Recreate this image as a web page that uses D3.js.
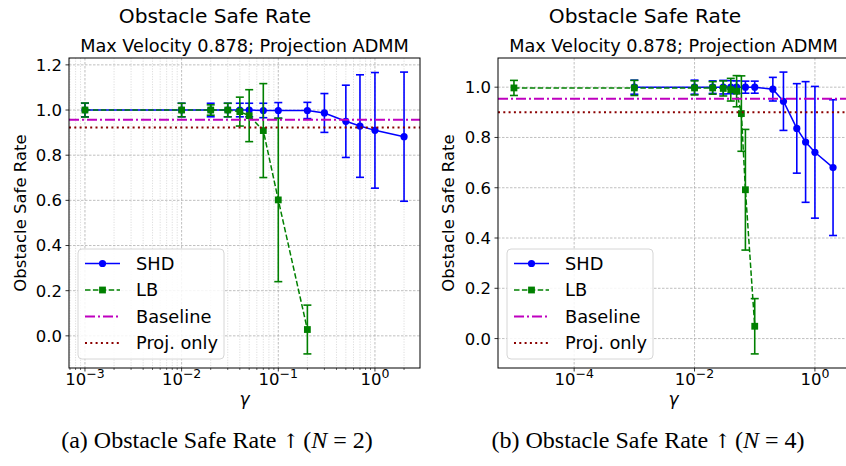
<!DOCTYPE html>
<html><head><meta charset="utf-8">
<script src="https://cdn.jsdelivr.net/npm/d3@7"></script>
<style>
html,body{margin:0;padding:0;background:#fff;}
svg{display:block;font-family:"DejaVu Sans",sans-serif;}
</style></head>
<body>
<svg id="chart" width="846" height="466"></svg>
<script>
// ---------------- DATA ----------------
const seriesNames = ["SHD", "LB", "Baseline", "Proj. only"];

// Panel (a) N = 2
const aShdGamma = [0.001, 0.01, 0.02, 0.03, 0.04, 0.05, 0.07, 0.1, 0.2, 0.3, 0.5, 0.7, 1.0, 2.0];
const aShdMean  = [1.0, 1.0, 1.0, 1.0, 1.0, 1.0, 0.998, 0.998, 0.998, 0.987, 0.950, 0.929, 0.910, 0.882];
const aShdErr   = [0.03, 0.03, 0.03, 0.03, 0.03, 0.03, 0.032, 0.035, 0.036, 0.086, 0.16, 0.227, 0.256, 0.286];
const aLbGamma  = [0.001, 0.01, 0.02, 0.03, 0.04, 0.05, 0.07, 0.1, 0.2];
const aLbMean   = [1.0, 1.0, 1.0, 1.0, 0.993, 0.975, 0.909, 0.602, 0.028];
const aLbErr    = [0.031, 0.03, 0.023, 0.03, 0.064, 0.115, 0.208, 0.362, 0.108];
const aBaseline = 0.957;
const aProjOnly = 0.923;
const aXTicks   = [1e-3, 1e-2, 1e-1, 1e0];
const aYTicks   = [0.0, 0.2, 0.4, 0.6, 0.8, 1.0, 1.2];

// Panel (b) N = 4
const bShdGamma = [0.001, 0.01, 0.02, 0.03, 0.04, 0.05, 0.07, 0.1, 0.2, 0.3, 0.5, 0.7, 1.0, 2.0];
const bShdMean  = [1.0, 1.0, 1.0, 1.0, 1.0, 1.0, 1.0, 1.0, 0.992, 0.944, 0.836, 0.782, 0.741, 0.680];
const bShdErr   = [0.028, 0.028, 0.025, 0.027, 0.026, 0.025, 0.024, 0.024, 0.047, 0.116, 0.178, 0.24, 0.262, 0.27];
const bLbGamma  = [1e-5, 1e-3, 0.01, 0.02, 0.03, 0.04, 0.05, 0.06, 0.07, 0.1];
const bLbMean   = [0.997, 0.997, 0.997, 0.997, 0.995, 0.99, 0.984, 0.895, 0.592, 0.049];
const bLbErr    = [0.03, 0.03, 0.028, 0.025, 0.03, 0.045, 0.062, 0.15, 0.24, 0.11];
const bBaseline = 0.954;
const bProjOnly = 0.900;
const bXTicks   = [1e-4, 1e-2, 1e0];
const bYTicks   = [0.0, 0.2, 0.4, 0.6, 0.8, 1.0];

const supTitle = "Obstacle Safe Rate";
const axTitle  = "Max Velocity 0.878; Projection ADMM";
const yLabel   = "Obstacle Safe Rate";
const xLabel   = "γ";

// ---------------- DRAW ----------------
const svg = d3.select("#chart");
const COL = {SHD: "#0000ff", LB: "#008000", Baseline: "#bf00bf", Proj: "#8b0000"};

function zipSeries(g, m, e) { return g.map((x, i) => ({x, y: m[i], e: e[i]})); }

function drawPanel(cfg) {
  const {left, top, width, height} = cfg;
  const shd = zipSeries(cfg.shdGamma, cfg.shdMean, cfg.shdErr);
  const lb  = zipSeries(cfg.lbGamma, cfg.lbMean, cfg.lbErr);
  const all = shd.concat(lb);

  // matplotlib-like 5% margins
  const lx = d3.extent(all, d => Math.log10(d.x));
  const px = (lx[1] - lx[0]) * 0.05;
  const yMin = d3.min(all, d => d.y - d.e), yMax = d3.max(all, d => d.y + d.e);
  const py = (yMax - yMin) * 0.05;

  const x = d3.scaleLog().domain([Math.pow(10, lx[0] - px), Math.pow(10, lx[1] + px)]).range([left, left + width]);
  const y = d3.scaleLinear().domain([yMin - py, yMax + py]).range([top + height, top]);

  const g = svg.append("g");
  const clipId = "clip" + cfg.id;
  svg.append("clipPath").attr("id", clipId).append("rect")
    .attr("x", left).attr("y", top).attr("width", width).attr("height", height);
  const plot = g.append("g").attr("clip-path", `url(#${clipId})`);

  // minor grid
  if (cfg.minor) {
    const minors = [];
    for (let k = -6; k <= 1; k++) for (let m = 2; m <= 9; m++) {
      const v = m * Math.pow(10, k);
      if (v > x.domain()[0] && v < x.domain()[1]) minors.push(v);
    }
    plot.selectAll(".mg").data(minors).join("line")
      .attr("x1", d => x(d)).attr("x2", d => x(d)).attr("y1", top).attr("y2", top + height)
      .attr("stroke", "#c8c8c8").attr("stroke-width", 0.6).attr("stroke-dasharray", "1.2,1.4");
    g.selectAll(".mt").data(minors).join("line")
      .attr("x1", d => x(d)).attr("x2", d => x(d)).attr("y1", top + height).attr("y2", top + height + 2)
      .attr("stroke", "#000").attr("stroke-width", 0.6);
  }
  // major grid
  plot.selectAll(".gx").data(cfg.xTicks).join("line")
    .attr("x1", d => x(d)).attr("x2", d => x(d)).attr("y1", top).attr("y2", top + height)
    .attr("stroke", "#b0b0b0").attr("stroke-width", 0.8).attr("stroke-dasharray", "2.5,1.5");
  plot.selectAll(".gy").data(cfg.yTicks).join("line")
    .attr("y1", d => y(d)).attr("y2", d => y(d)).attr("x1", left).attr("x2", left + width)
    .attr("stroke", "#b0b0b0").attr("stroke-width", 0.8).attr("stroke-dasharray", "2.5,1.5");

  function drawSeries(data, color, dash, marker) {
    const eb = plot.append("g");
    eb.selectAll("line.v").data(data).join("line")
      .attr("x1", d => x(d.x)).attr("x2", d => x(d.x)).attr("y1", d => y(d.y - d.e)).attr("y2", d => y(d.y + d.e))
      .attr("stroke", color).attr("stroke-width", 1.6);
    [-1, 1].forEach(s => {
      eb.selectAll("line.c" + s).data(data).join("line")
        .attr("x1", d => x(d.x) - 4).attr("x2", d => x(d.x) + 4)
        .attr("y1", d => y(d.y + s * d.e)).attr("y2", d => y(d.y + s * d.e))
        .attr("stroke", color).attr("stroke-width", 1.6);
    });
    plot.append("path").datum(data)
      .attr("d", d3.line().x(d => x(d.x)).y(d => y(d.y)))
      .attr("fill", "none").attr("stroke", color).attr("stroke-width", 1.5)
      .attr("stroke-dasharray", dash);
    if (marker === "circle") {
      plot.selectAll(null).data(data).join("circle")
        .attr("cx", d => x(d.x)).attr("cy", d => y(d.y)).attr("r", 3.6).attr("fill", color);
    } else {
      plot.selectAll(null).data(data).join("rect")
        .attr("x", d => x(d.x) - 3.4).attr("y", d => y(d.y) - 3.4).attr("width", 6.8).attr("height", 6.8).attr("fill", color);
    }
  }
  drawSeries(shd, COL.SHD, null, "circle");
  drawSeries(lb, COL.LB, "5.5,2.4", "square");

  plot.append("line").attr("x1", left).attr("x2", left + width).attr("y1", y(cfg.baseline)).attr("y2", y(cfg.baseline))
    .attr("stroke", COL.Baseline).attr("stroke-width", 2).attr("stroke-dasharray", "10,3,2,3");
  plot.append("line").attr("x1", left).attr("x2", left + width).attr("y1", y(cfg.proj)).attr("y2", y(cfg.proj))
    .attr("stroke", COL.Proj).attr("stroke-width", 2).attr("stroke-dasharray", "2,3.3");

  // spines
  g.append("rect").attr("x", left).attr("y", top).attr("width", width).attr("height", height)
    .attr("fill", "none").attr("stroke", "#000").attr("stroke-width", 1);

  // y axis ticks
  g.selectAll(".yt").data(cfg.yTicks).join("line")
    .attr("x1", left - 3.5).attr("x2", left).attr("y1", d => y(d)).attr("y2", d => y(d))
    .attr("stroke", "#000").attr("stroke-width", 0.8);
  g.selectAll(".yl").data(cfg.yTicks).join("text")
    .attr("x", left - 7).attr("y", d => y(d)).attr("dy", "0.36em")
    .attr("text-anchor", "end").attr("font-size", 16.5).text(d3.format(".1f"));

  // x axis ticks
  g.selectAll(".xt").data(cfg.xTicks).join("line")
    .attr("x1", d => x(d)).attr("x2", d => x(d)).attr("y1", top + height).attr("y2", top + height + 3.5)
    .attr("stroke", "#000").attr("stroke-width", 0.8);
  const xl = g.selectAll(".xl").data(cfg.xTicks).join("text")
    .attr("x", d => x(d)).attr("y", top + height + 16.5)
    .attr("text-anchor", "middle").attr("font-size", 16.5);
  xl.append("tspan").text("10");
  xl.append("tspan").attr("dy", -7).attr("font-size", 12.5)
    .text(d => { const e = Math.round(Math.log10(d)); return e < 0 ? "\u2212" + (-e) : String(e); });

  // labels
  g.append("text").attr("x", left + width / 2).attr("y", top + height + 37)
    .attr("text-anchor", "middle").attr("font-size", 17).attr("font-style", "italic").text(xLabel);
  g.append("text").attr("transform", `translate(${cfg.yLabelX},${top + height / 2}) rotate(-90)`)
    .attr("text-anchor", "middle").attr("dy", "0.35em").attr("font-size", 16.5).text(yLabel);
  g.append("text").attr("x", left + width / 2).attr("y", top - 6)
    .attr("text-anchor", "middle").attr("font-size", 17.7).text(axTitle);
  g.append("text").attr("x", cfg.supX).attr("y", 23)
    .attr("text-anchor", "middle").attr("font-size", 20.2).text(supTitle);

  // legend
  const lg = g.append("g").attr("transform", `translate(${left + 9},${top + height - 119})`);
  lg.append("rect").attr("width", 146).attr("height", 110).attr("rx", 4)
    .attr("fill", "#fff").attr("fill-opacity", 0.85).attr("stroke", "#d6d6d6");
  const rows = [
    {name: seriesNames[0], color: COL.SHD, dash: null, marker: "circle"},
    {name: seriesNames[1], color: COL.LB, dash: "5.5,2.4", marker: "square"},
    {name: seriesNames[2], color: COL.Baseline, dash: "10,3,2,3", marker: null, w: 2},
    {name: seriesNames[3], color: COL.Proj, dash: "2,3.3", marker: null, w: 2}
  ];
  rows.forEach((r, i) => {
    const cy = 14.5 + i * 26.5;
    lg.append("line").attr("x1", 7).attr("x2", 42).attr("y1", cy).attr("y2", cy)
      .attr("stroke", r.color).attr("stroke-width", r.w || 1.5).attr("stroke-dasharray", r.dash);
    if (r.marker === "circle") lg.append("circle").attr("cx", 24.5).attr("cy", cy).attr("r", 3.6).attr("fill", r.color);
    if (r.marker === "square") lg.append("rect").attr("x", 21.1).attr("y", cy - 3.4).attr("width", 6.8).attr("height", 6.8).attr("fill", r.color);
    lg.append("text").attr("x", 58).attr("y", cy).attr("dy", "0.36em").attr("font-size", 17.8).text(r.name);
  });

  // caption
  const cap = svg.append("text").attr("x", cfg.capX).attr("y", 448).attr("text-anchor", "middle")
    .attr("font-family", "'Liberation Serif','Times New Roman',serif").attr("font-size", 24);
  cap.append("tspan").text(`(${cfg.letter}) Obstacle Safe Rate `);
  cap.append("tspan").attr("font-family", "'DejaVu Serif',serif").attr("font-size", 20).text("\u2191");
  cap.append("tspan").attr("dx", 4).text("(");
  cap.append("tspan").attr("font-style", "italic").text("N");
  cap.append("tspan").attr("dx", 6).text("=");
  cap.append("tspan").attr("dx", 6).text(`${cfg.n})`);
}

drawPanel({id: "a", left: 69, top: 58, width: 351, height: 310,
  shdGamma: aShdGamma, shdMean: aShdMean, shdErr: aShdErr,
  lbGamma: aLbGamma, lbMean: aLbMean, lbErr: aLbErr,
  baseline: aBaseline, proj: aProjOnly, xTicks: aXTicks, yTicks: aYTicks, minor: true,
  yLabelX: 20, supX: 215, capX: 217, letter: "a", n: 2});
drawPanel({id: "b", left: 498, top: 58, width: 351, height: 310,
  shdGamma: bShdGamma, shdMean: bShdMean, shdErr: bShdErr,
  lbGamma: bLbGamma, lbMean: bLbMean, lbErr: bLbErr,
  baseline: bBaseline, proj: bProjOnly, xTicks: bXTicks, yTicks: bYTicks, minor: false,
  yLabelX: 448, supX: 645, capX: 648, letter: "b", n: 4});
</script>
</body></html>
